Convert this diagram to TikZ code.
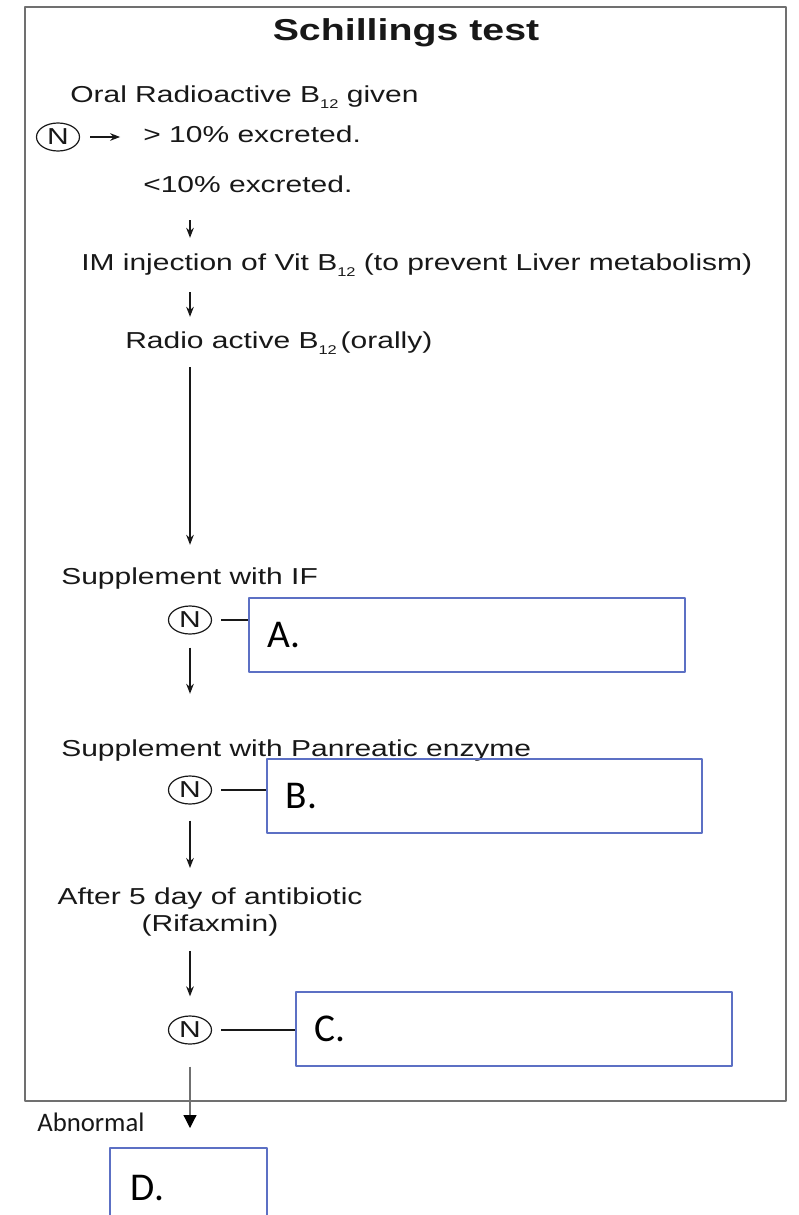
\documentclass[tikz,border=0pt]{standalone}
\usepackage{fontspec}
\setmainfont{Liberation Sans}[FakeStretch=1.3]
\newfontfamily\calibri{Carlito}
\usetikzlibrary{arrows.meta,shapes.geometric,positioning}
\definecolor{ink}{RGB}{24,24,24}
\definecolor{framegray}{RGB}{112,112,112}
\definecolor{boxblue}{RGB}{92,112,196}
\newcommand{\vitb}{B\raisebox{-0.45ex}{\fontsize{9}{9}\selectfont 12}}
\tikzstyle{every picture}+=[x=0.025cm,y=-0.025cm]
\tikzstyle{every picture}+=[>={Stealth[length=0.25cm,width=0.19cm]}]
\tikzstyle{every picture}+=[join=round]
\tikzstyle{heading}=[text=ink, font=\bfseries\fontsize{21.5}{24}\selectfont]
\tikzstyle{txt}=[inner sep=0pt, text height=12pt, text depth=3.5pt, anchor=west]
\tikzstyle{txt}+=[text=ink, font=\fontsize{16.4}{19.8}\selectfont]
\tikzstyle{txtc}=[inner sep=0pt, align=center, text=ink, font=\fontsize{16.4}{19.8}\selectfont]
\tikzstyle{nstate}=[ellipse, draw=ink, line width=0.03cm, inner sep=0pt]
\tikzstyle{nstate}+=[minimum width=1.075cm, minimum height=0.7cm]
\tikzstyle{nstate}+=[text=ink, font=\fontsize{16.4}{19.8}\selectfont]
\tikzstyle{answer}=[draw=boxblue, line width=0.045cm, anchor=west, align=left]
\tikzstyle{answer}+=[minimum height=1.85cm, inner xsep=0.475cm, text width=9.95cm]
\tikzstyle{answer}+=[font=\calibri\fontsize{28}{30}\selectfont]
\tikzstyle{flow}=[->, draw=ink, line width=0.04cm]
\tikzstyle{link}=[draw=ink, line width=0.04cm]
\tikzstyle{drop}=[-{Triangle[length=0.325cm,width=0.325cm,color=black]}]
\tikzstyle{drop}+=[draw=framegray, line width=0.03cm]

\begin{document}
\begin{tikzpicture}
\useasboundingbox (0,0) rectangle (798,1215);
\clip (0,0) rectangle (798,1215);
\draw[framegray, line width=0.0625cm] (25,7) rectangle (786,1101);

\node[heading] (title) at (406,33) {Schillings test};

% first test
\node[txt] (oral) at (70,97) {Oral Radioactive \vitb{} given};
\node[nstate] (n0) at (58,137) {N};
\node[txt] (gt) [right=1.575cm of n0] {> 10\% excreted.};
\node[txt] (lt) at (143,187) {<10\% excreted.};
\node[txt] (im) at (81,265) {IM injection of Vit \vitb{} (to prevent Liver metabolism)};
\node[txt] (radio) at (125,343) {Radio active \vitb{}\,(orally)};

% second stages
\node[txt] (supif) at (61,579) {Supplement with IF};
\node[nstate] (n1) at (190,620) {N};
\node[answer] (boxa) at (248,635) {A.};

\node[txt] (suppe) at (61,751) {Supplement with Panreatic enzyme};
\node[nstate] (n2) at (190,790) {N};
\node[answer, text width=9.925cm] (boxb) at (266,796) {B.};

\node[txtc, anchor=north] (abx) at (210,887) {After 5 day of antibiotic\\(Rifaxmin)};
\node[nstate] (n3) at (190,1030) {N};
\node[answer] (boxc) at (295,1029) {C.};

\node[txt, font=\calibri\fontsize{19}{22}\selectfont] (abn) at (37,1126) {Abnormal};
\node[answer, anchor=north west, minimum height=2cm, inner xsep=0.525cm, text width=2.875cm] (boxd) at (109,1147) {D.};

\draw[flow, shorten <=0.25cm, shorten >=0.575cm] (n0) -- (gt);
\draw[flow, shorten <=0.55cm, shorten >=0.4cm] (lt.south -| n1) -- (im.north -| n1);
\draw[flow, shorten <=0.4cm, shorten >=0.375cm] (im.south -| n1) -- (radio.north -| n1);
\draw[flow, shorten <=0.325cm, shorten >=0.575cm] (radio.south -| n1) -- (supif.north -| n1);
\draw[flow, shorten <=0.325cm, shorten >=1.15cm] (n1) -- (suppe.north -| n1);
\draw[flow, shorten <=0.4cm, shorten >=0.475cm] (n2) -- (abx.north -| n2);
\draw[flow, shorten <=0.35cm, shorten >=0.475cm] (abx.south -| n3) -- (n3);

\draw[link, shorten <=0.225cm] (n1.east) -- (n1.east -| boxa.west);
\draw[link, shorten <=0.225cm] (n2.east) -- (n2.east -| boxb.west);
\draw[link, shorten <=0.225cm] (n3.east) -- (n3.east -| boxc.west);

\draw[drop, shorten <=0.55cm, shorten >=0.475cm] (n3) -- (boxd.north -| n3);
\end{tikzpicture}
\end{document}
